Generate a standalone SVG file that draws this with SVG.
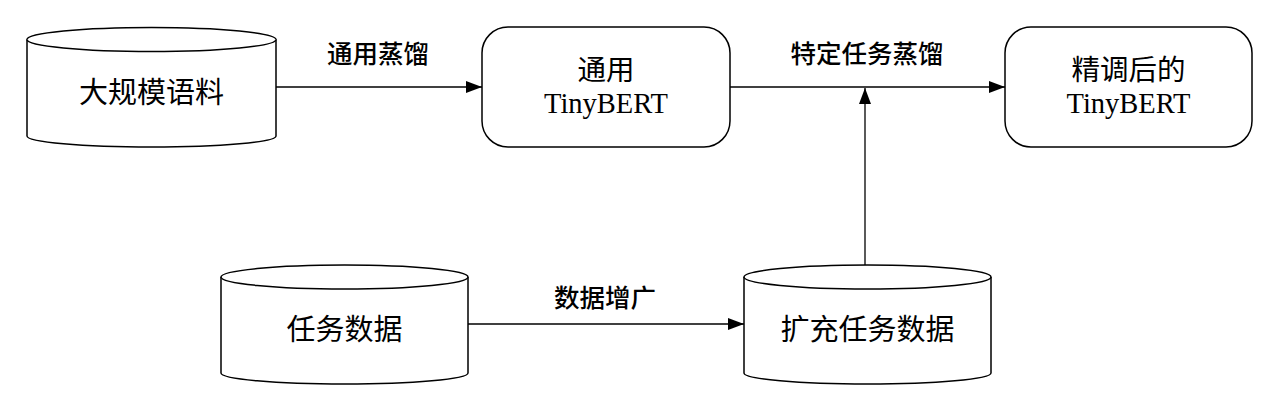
<svg xmlns="http://www.w3.org/2000/svg" width="1276" height="407" viewBox="0 0 1276 407">
<style>
.shape{fill:#fff;stroke:#000;stroke-width:1.5}
.edge{fill:none;stroke:#000;stroke-width:1.3}
.ntext{font-family:"Liberation Sans","Noto Sans CJK SC",sans-serif;font-size:29px;fill:#000;text-anchor:middle;dominant-baseline:central}
.stext{font-family:"Liberation Serif","Noto Sans CJK SC",serif;font-size:28.5px;fill:#000;text-anchor:middle}
.label{font-family:"Noto Sans CJK SC",sans-serif;font-size:25.5px;font-weight:500;fill:#000;text-anchor:middle;dominant-baseline:central}
</style>
<defs>
<marker id="arr" viewBox="0 0 16 12" refX="16" refY="6" markerWidth="16" markerHeight="12" markerUnits="userSpaceOnUse" orient="auto">
<path d="M0,0 L16,6 L0,12 Z" fill="#000"/>
</marker>
</defs>
<rect width="1276" height="407" fill="#fff"/>
<g id="connectors">
<line class="edge" x1="276" y1="87" x2="482" y2="87" marker-end="url(#arr)"/>
<line class="edge" x1="730" y1="87" x2="1005" y2="87" marker-end="url(#arr)"/>
<line class="edge" x1="865" y1="265" x2="865" y2="88" marker-end="url(#arr)"/>
<line class="edge" x1="468" y1="324" x2="744" y2="324" marker-end="url(#arr)"/>
<text class="label" x="378" y="51">通用蒸馏</text>
<text class="label" x="867" y="51">特定任务蒸馏</text>
<text class="label" x="605" y="295">数据增广</text>
</g>
<g id="corpus">
<path class="shape" d="M27,39.5 A124.5,12 0 0 1 276,39.5 L276,136 A124.5,11 0 0 1 27,136 Z"/>
<path class="shape" d="M27,39.5 A124.5,12 0 0 0 276,39.5"/>
<text class="ntext" x="151.5" y="92.5">大规模语料</text>
</g>
<g id="general-tinybert">
<rect class="shape" x="482" y="27" width="248" height="120" rx="26" ry="26"/>
<text class="stext" x="606" y="80">通用</text>
<text class="stext" x="606" y="113">TinyBERT</text>
</g>
<g id="finetuned-tinybert">
<rect class="shape" x="1005" y="27" width="247" height="120" rx="26" ry="26"/>
<text class="stext" x="1128.5" y="80">精调后的</text>
<text class="stext" x="1128.5" y="113">TinyBERT</text>
</g>
<g id="task-data">
<path class="shape" d="M221,277 A123.5,12 0 0 1 468,277 L468,373 A123.5,11 0 0 1 221,373 Z"/>
<path class="shape" d="M221,277 A123.5,12 0 0 0 468,277"/>
<text class="ntext" x="344.5" y="330">任务数据</text>
</g>
<g id="augmented-data">
<path class="shape" d="M744,277 A123.5,12 0 0 1 991,277 L991,373 A123.5,11 0 0 1 744,373 Z"/>
<path class="shape" d="M744,277 A123.5,12 0 0 0 991,277"/>
<text class="ntext" x="867.5" y="330">扩充任务数据</text>
</g>
</svg>
